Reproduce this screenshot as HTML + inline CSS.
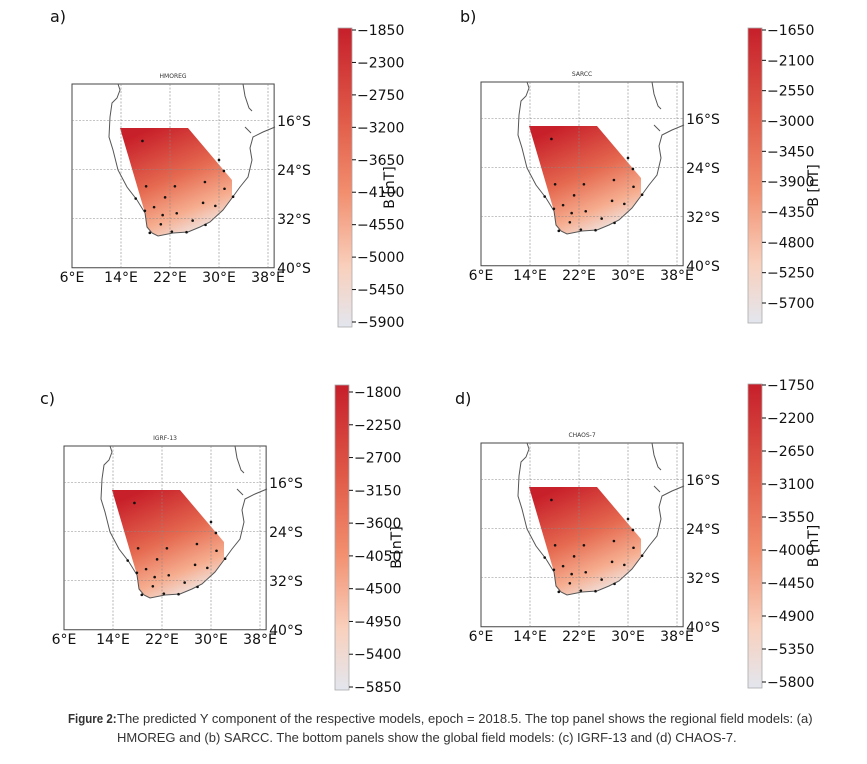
<!DOCTYPE html>
<html><head><meta charset="utf-8"><style>
body{margin:0;background:#fff;width:867px;height:764px;overflow:hidden;font-family:"DejaVu Sans","Liberation Sans",sans-serif}
svg{position:absolute;left:0;top:0}
.cl{position:absolute;font-family:"Liberation Sans",sans-serif;font-size:12.5px;color:#333;white-space:nowrap;transform-origin:0 0}
</style></head><body>
<svg id="fig" width="867" height="764" viewBox="0 0 867 764">
<defs>
<linearGradient id="cb" x1="0" y1="0" x2="0" y2="1">
<stop offset="0" stop-color="#c61f2b"/><stop offset="0.3" stop-color="#e05a48"/><stop offset="0.55" stop-color="#f28e6e"/><stop offset="0.8" stop-color="#f9d0bd"/><stop offset="1" stop-color="#e3e6ee"/></linearGradient>
<linearGradient id="mg" x1="0.3" y1="0" x2="0.75" y2="1">
<stop offset="0" stop-color="#c8202a"/><stop offset="0.45" stop-color="#e56a50"/><stop offset="0.75" stop-color="#f6ad8f"/><stop offset="1" stop-color="#eef0f3"/></linearGradient>
</defs>
</svg>
<div class="cl" style="left:68px;top:712px;transform:scaleX(0.92)"><b>Figure 2:</b></div>
<div class="cl" style="left:117px;top:712px;transform:scaleX(1.04)">The predicted Y component of the respective models, epoch = 2018.5. The top panel shows the regional field models: (a)</div>
<div class="cl" style="left:117px;top:731px;transform:scaleX(1.04)">HMOREG and (b) SARCC. The bottom panels show the global field models: (c) IGRF-13 and (d) CHAOS-7.</div>
<script>
const panelNames=["HMOREG","SARCC","IGRF-13","CHAOS-7"];
const panelLetters=["a)","b)","c)","d)"];
const cbTop=[-1850,-1650,-1800,-1750];
const cbStep=[450,450,450,450];
const cbCount=[10,10,10,10];
const lonTicks=[6,14,22,30,38];
const latTicks=[-16,-24,-32,-40];
const stationLon=[17.5,30.0,30.8,18.1,22.8,27.7,30.9,21.2,16.4,27.4,29.4,19.4,17.9,23.1,20.8,25.7,20.5,27.8,32.3,18.7,22.3,24.7];
const stationLat=[-19.3,-22.4,-24.2,-26.7,-26.7,-26.0,-27.1,-28.5,-28.7,-29.4,-29.9,-30.1,-30.7,-31.1,-31.4,-32.3,-32.9,-33.0,-28.4,-34.3,-34.1,-34.2];
const cbGeo=[[338,28,327,30,322],[748,28,323,30,303],[335,385,690,392,687],[748,384,688,385,682]];
const labelOff=[56,70,66,70];
const letterPos=[[50,22],[460,22],[40,404],[455,404]];
const coast=[[46,0],[48,6],[45,14],[40,19],[38,33],[37,53],[41,66],[46,86],[55,103],[65,116],[73,129],[75,143],[80,149],[86,152],[101,149],[116,148],[128,143],[138,138],[151,126],[160,114],[168,103],[176,93],[180,76],[178,64],[181,53],[191,48],[203,43]];
const NS="http://www.w3.org/2000/svg";
const svg=document.getElementById('fig');
function mk(t,a,p){const e=document.createElementNS(NS,t);for(const k in a)e.setAttribute(k,a[k]);(p||svg).appendChild(e);return e;}
const S=6.125;
function xOf(lon){return (lon-6)*S;}
function yOf(lat){return (-10-lat)*S;}
for(let i=0;i<4;i++){
 const ox=[72,481,64,481][i], oy=[84,82,446,443][i];
 const g=mk('g',{transform:`translate(${ox},${oy})`});
 
 
 const W=xOf(39),H=yOf(-40);
 const fr=mk('rect',{x:0,y:0,width:W,height:H,fill:'#fff',stroke:'#444','stroke-width':1},g);
 
 const poly=[[48,44],[116,44],[160,96],[160,114],[151,126],[138,138],[128,143],[116,148],[101,149],[86,152],[80,149],[75,143],[73,129]];
 const fl=mk('polygon',{points:poly.map(p=>p.join(',')).join(' '),fill:'url(#mg)'},g);
 
 lonTicks.forEach(l=>{if(l>6&&l<39){const ln=mk('line',{x1:xOf(l),x2:xOf(l),y1:0,y2:H,stroke:'#888','stroke-width':0.6,'stroke-dasharray':'2,1.5'},g);}
  const t=mk('text',{x:xOf(l),y:H+14,'font-size':14,'text-anchor':'middle',fill:'#111'},g);t.textContent=l+'°E';
  });
 latTicks.forEach(l=>{if(l>-40){const ln=mk('line',{x1:0,x2:W,y1:yOf(l),y2:yOf(l),stroke:'#888','stroke-width':0.6,'stroke-dasharray':'2,1.5'},g);}
  const t=mk('text',{x:W+3,y:yOf(l)+5,'font-size':14,fill:'#111'},g);t.textContent=(-l)+'°S';
  });
 const cl=mk('polyline',{points:coast.map(p=>p.join(',')).join(' '),fill:'none',stroke:'#555','stroke-width':1},g);
 
 const lk=mk('polyline',{points:'171,0 173,12 177,24 180,27',fill:'none',stroke:'#555','stroke-width':1},g);
 
 const lk2=mk('polyline',{points:'173,43 179,49',fill:'none',stroke:'#555','stroke-width':1},g);
 
 for(let k=0;k<stationLon.length;k++){const c=mk('circle',{cx:xOf(stationLon[k]),cy:yOf(stationLat[k]),r:1.3,fill:'#111'},g);
  }
 const tt=mk('text',{x:W/2,y:-6,'font-size':6,'text-anchor':'middle',fill:'#333'},g);tt.textContent=panelNames[i];
 
 const lt=mk('text',{x:letterPos[i][0],y:letterPos[i][1],'font-size':16,fill:'#111'});lt.textContent=panelLetters[i];
 
 const [cx,cy0,cy1,t0,t1]=cbGeo[i];
 const cr=mk('rect',{x:cx,y:cy0,width:14,height:cy1-cy0,fill:'url(#cb)',stroke:'#aaa','stroke-width':0.8});
 
 const n=cbCount[i];const bot=cbTop[i]-cbStep[i]*(n-1);
 const yv=v=>t0+(cbTop[i]-v)/(cbTop[i]-bot)*(t1-t0);
 for(let k=0;k<n;k++){const v=cbTop[i]-k*cbStep[i];const y=yv(v);
  const tk=mk('line',{x1:cx+14,x2:cx+18,y1:y,y2:y,stroke:'#111','stroke-width':1});
  const t=mk('text',{x:cx+19,y:y+5,'font-size':14,fill:'#111'});t.textContent='\u2212'+(-v);
  }
 const mid=(cy0+cy1)/2+10;
 const lx=cx+labelOff[i];
 const bl=mk('text',{x:lx,y:mid,'font-size':14,fill:'#111','text-anchor':'middle',transform:`rotate(-90 ${lx} ${mid})`});bl.textContent='B [nT]';
 
}
</script>
</body></html>
